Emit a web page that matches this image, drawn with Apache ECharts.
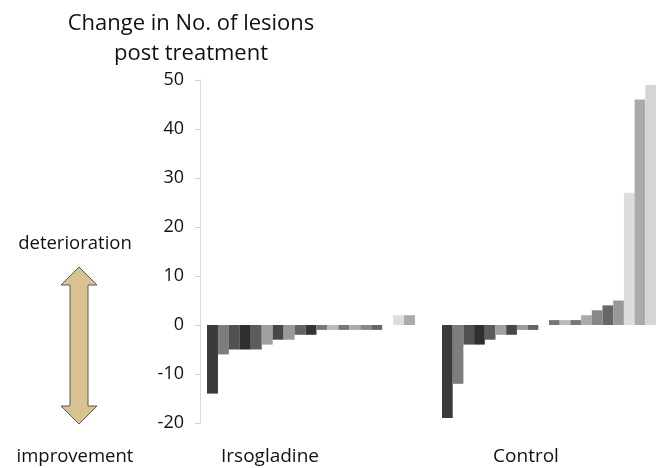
<!DOCTYPE html>
<html>
<head>
<meta charset="utf-8">
<script src="https://cdn.jsdelivr.net/npm/echarts@6/dist/echarts.min.js"></script>
<style>
html,body{margin:0;padding:0;background:#fff;}
#chart{width:656px;height:468px;}
</style>
</head>
<body>
<div id="chart"></div>
<script>
const groupNames = ['Irsogladine', 'Control'];
const irsogladinePatients = ['1','2','3','4','5','6','7','8','9','10','11','12','13','14','15','16','17','18','19'];
const irsogladineValues = [-14, -6, -5, -5, -5, -4, -3, -3, -2, -2, -1, -1, -1, -1, -1, -1, 0, 2, 2];
const controlPatients = ['1','2','3','4','5','6','7','8','9','10','11','12','13','14','15','16','17','18','19','20'];
const controlValues = [-19, -12, -4, -4, -3, -2, -2, -1, -1, 0, 1, 1, 1, 2, 3, 4, 5, 27, 46, 49];
const yMin = -20, yMax = 50, yStep = 10;
const yTitle = 'Change in No. of lesions\npost treatment';
const upLabel = 'deterioration';
const downLabel = 'improvement';

const barShades = ['#3a3a3a','#7d7d7d','#505050','#2f2f2f','#5c5c5c','#a0a0a0','#474747','#999999','#636363','#353535',
                   '#777777','#bbbbbb','#777777','#aaaaaa','#888888','#666666','#999999','#dddddd','#aaaaaa','#d5d5d5'];
const FONT = '"Open Sans", sans-serif';

const chart = echarts.init(document.getElementById('chart'), null, {renderer: 'canvas'});

const baseX = {
  type: 'category',
  axisLine: {show: false},
  axisTick: {show: false},
  axisLabel: {show: false},
  splitLine: {show: false}
};

const option = {
  animation: false,
  backgroundColor: '#ffffff',
  title: {
    text: yTitle,
    left: 191,
    top: 9,
    padding: 0,
    textAlign: 'center',
    textStyle: {fontFamily: FONT, fontSize: 22, fontWeight: 'normal', color: '#111', lineHeight: 30}
  },
  grid: [
    {left: 207, top: 80, width: 208, bottom: 45},
    {left: 442, top: 80, width: 216, bottom: 45}
  ],
  xAxis: [
    Object.assign({gridIndex: 0, data: irsogladinePatients}, baseX),
    Object.assign({gridIndex: 1, data: controlPatients}, baseX)
  ],
  yAxis: [
    {
      gridIndex: 0, type: 'value', min: yMin, max: yMax, interval: yStep, offset: 7,
      axisLine: {show: true, lineStyle: {color: '#dadada', width: 1}},
      axisTick: {show: true, length: 5, lineStyle: {color: '#d0d0d0'}},
      axisLabel: {fontFamily: FONT, fontSize: 18, color: '#111', margin: 16},
      splitLine: {show: false}
    },
    {
      gridIndex: 1, type: 'value', min: yMin, max: yMax, interval: yStep, show: false,
      splitLine: {show: false}
    }
  ],
  series: [
    {
      name: groupNames[0], type: 'bar', xAxisIndex: 0, yAxisIndex: 0,
      data: irsogladineValues, barCategoryGap: '0%',
      itemStyle: {color: p => barShades[p.dataIndex]}
    },
    {
      name: groupNames[1], type: 'bar', xAxisIndex: 1, yAxisIndex: 1,
      data: controlValues, barCategoryGap: '0%',
      itemStyle: {color: p => barShades[p.dataIndex]}
    }
  ],
  graphic: [
    {type: 'text', x: 270, y: 457,
     style: {text: groupNames[0], font: '19px ' + FONT, fill: '#111', textAlign: 'center', textVerticalAlign: 'middle'}},
    {type: 'text', x: 526, y: 457,
     style: {text: groupNames[1], font: '19px ' + FONT, fill: '#111', textAlign: 'center', textVerticalAlign: 'middle'}},
    {type: 'text', x: 75, y: 244,
     style: {text: upLabel, font: '18.5px ' + FONT, fill: '#111', textAlign: 'center', textVerticalAlign: 'middle'}},
    {type: 'text', x: 75, y: 457,
     style: {text: downLabel, font: '18.5px ' + FONT, fill: '#111', textAlign: 'center', textVerticalAlign: 'middle'}},
    {type: 'polygon',
     shape: {points: [[79,267],[97,285],[88,285],[88,406],[97,406],[79,424],[61,406],[70,406],[70,285],[61,285]]},
     style: {fill: '#d8c28f', stroke: '#5a5a5a', lineWidth: 1}}
  ]
};
chart.setOption(option);
</script>
</body>
</html>
